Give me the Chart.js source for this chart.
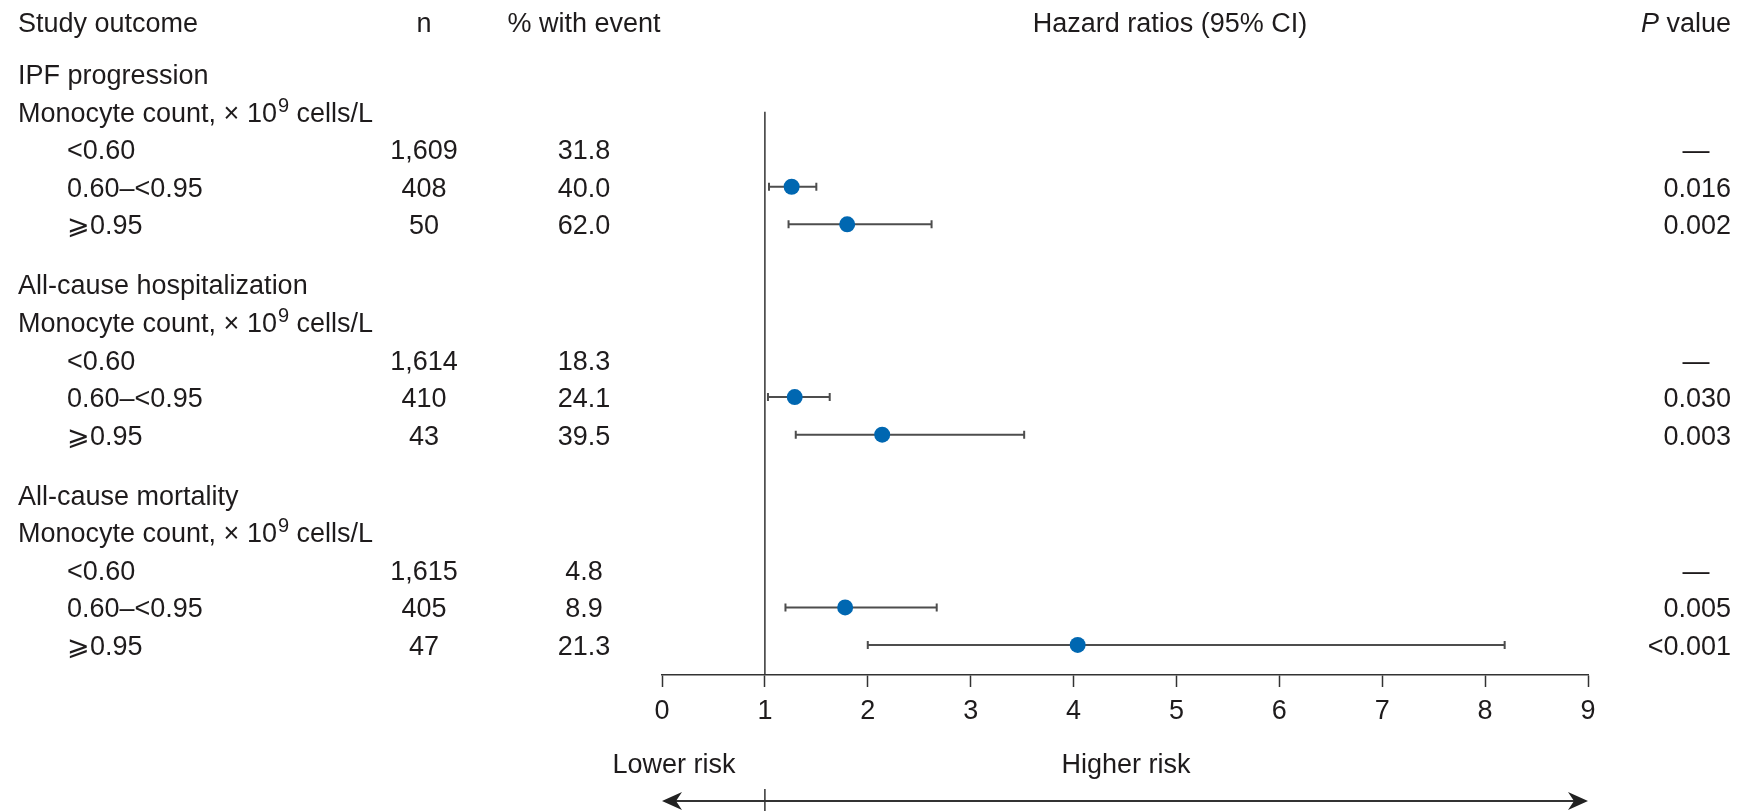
<!DOCTYPE html>
<html>
<head>
<meta charset="utf-8">
<script src="https://cdn.jsdelivr.net/npm/chart.js@4.4.1/dist/chart.umd.min.js"></script>
<style>
  body { margin: 0; background: #fff; }
  canvas { display: block; }
</style>
</head>
<body>
<canvas id="forestChart" width="1737" height="811"></canvas>
<script>
// table data
const groupNames = ['IPF progression', 'All-cause hospitalization', 'All-cause mortality'];
const subgroupLabels = ['<0.60', '0.60\u2013<0.95', '\u2A7E0.95'];
const nValues = [[1609, 408, 50], [1614, 410, 43], [1615, 405, 47]];
const pctValues = [[31.8, 40.0, 62.0], [18.3, 24.1, 39.5], [4.8, 8.9, 21.3]];
const hrValues = [[null, 1.26, 1.80], [null, 1.29, 2.14], [null, 1.78, 4.04]];
const ciLower = [[null, 1.04, 1.23], [null, 1.03, 1.30], [null, 1.20, 2.00]];
const ciUpper = [[null, 1.50, 2.62], [null, 1.63, 3.52], [null, 2.67, 8.19]];
const pValues = [['\u2014', '0.016', '0.002'], ['\u2014', '0.030', '0.003'], ['\u2014', '0.005', '<0.001']];
const xTickMin = 0;
const xTickMax = 9;

const FONT = "'Liberation Sans', Arial, Helvetica, sans-serif";
const TEXT = '#1e1b1c';
const ROWS_PER_GROUP = 5.6;

// row index of each line in the table
const groupRow = (g) => g * ROWS_PER_GROUP;
const subRow = (g, i) => groupRow(g) + 2 + i;

let points = [];
hrValues.forEach((list, g) => {
    list.forEach((hr, i) => {
        if (hr !== null) {
            points.push({ x: hr, y: subRow(g, i) });
        }
    });
});

const drawText = (ctx, txt, x, y, align, font) => {
    ctx.font = font || ('27px ' + FONT);
    ctx.textAlign = align || 'left';
    ctx.fillText(txt, x, y);
}

const monocyteLabel = (ctx, x, y) => {
    ctx.textAlign = 'left';
    ctx.font = '27px ' + FONT;
    let a = 'Monocyte count, \u00D7 10';
    ctx.fillText(a, x, y);
    let w = ctx.measureText(a).width;
    ctx.font = '20px ' + FONT;
    ctx.fillText('9', x + w + 1, y - 10);
    let w2 = ctx.measureText('9').width;
    ctx.font = '27px ' + FONT;
    ctx.fillText(' cells/L', x + w + w2 + 1, y);
}

const arrowHead = (ctx, tipX, y, dir) => {
    ctx.beginPath();
    ctx.moveTo(tipX, y);
    ctx.lineTo(tipX - dir * 20, y - 9);
    ctx.lineTo(tipX - dir * 14, y);
    ctx.lineTo(tipX - dir * 20, y + 9);
    ctx.closePath();
    ctx.fill();
}

const whiskerPlugin = {
    id: 'whiskers',
    beforeDatasetsDraw(chart) {
        const ctx = chart.ctx;
        const xs = chart.scales.x;
        const ys = chart.scales.y;
        ctx.save();
        ctx.strokeStyle = '#4d4d4d';
        ctx.lineWidth = 2;
        ciLower.forEach((list, g) => {
            list.forEach((lo, i) => {
                if (lo === null) return;
                const hi = ciUpper[g][i];
                const y = ys.getPixelForValue(subRow(g, i));
                const x1 = xs.getPixelForValue(lo);
                const x2 = xs.getPixelForValue(hi);
                ctx.beginPath();
                ctx.moveTo(x1, y); ctx.lineTo(x2, y);
                ctx.moveTo(x1, y - 4); ctx.lineTo(x1, y + 4);
                ctx.moveTo(x2, y - 4); ctx.lineTo(x2, y + 4);
                ctx.stroke();
            });
        });
        // line of no effect
        const x1 = xs.getPixelForValue(1);
        ctx.strokeStyle = '#333';
        ctx.lineWidth = 1.5;
        ctx.beginPath();
        ctx.moveTo(x1, ys.getPixelForValue(1));
        ctx.lineTo(x1, chart.chartArea.bottom);
        ctx.stroke();
        ctx.restore();
    },
    afterDraw(chart) {
        const ctx = chart.ctx;
        const xs = chart.scales.x;
        const ys = chart.scales.y;
        const area = chart.chartArea;
        const base = (row) => ys.getPixelForValue(row) + 10;
        ctx.save();
        ctx.fillStyle = TEXT;

        // header
        let hy = base(-1.4);
        drawText(ctx, 'Study outcome', 18, hy);
        drawText(ctx, 'n', 424, hy, 'center');
        drawText(ctx, '% with event', 584, hy, 'center');
        drawText(ctx, 'Hazard ratios (95% CI)', 1170, hy, 'center');
        ctx.font = '27px ' + FONT;
        let vw = ctx.measureText(' value').width;
        drawText(ctx, ' value', 1731, hy, 'right');
        drawText(ctx, 'P', 1731 - vw, hy, 'right', 'italic 27px ' + FONT);

        groupNames.forEach((name, g) => {
            drawText(ctx, name, 18, base(groupRow(g)));
            monocyteLabel(ctx, 18, base(groupRow(g) + 1));
            subgroupLabels.forEach((lab, i) => {
                let y = base(subRow(g, i));
                drawText(ctx, lab, 67, y);
                drawText(ctx, nValues[g][i].toLocaleString('en-US'), 424, y, 'center');
                drawText(ctx, pctValues[g][i].toFixed(1), 584, y, 'center');
                let p = pValues[g][i];
                if (p === '\u2014') {
                    drawText(ctx, p, 1696, y, 'center');
                } else {
                    drawText(ctx, p, 1731, y, 'right');
                }
            });
        });

        // risk direction
        let ry = area.bottom + 98;
        drawText(ctx, 'Lower risk', 674, ry, 'center');
        drawText(ctx, 'Higher risk', 1126, ry, 'center');
        let ay = area.bottom + 126;
        let xl = xs.getPixelForValue(xTickMin);
        let xr = xs.getPixelForValue(xTickMax);
        let x1 = xs.getPixelForValue(1);
        ctx.strokeStyle = '#333';
        ctx.fillStyle = '#222';
        ctx.lineWidth = 2;
        ctx.beginPath();
        ctx.moveTo(xl + 10, ay); ctx.lineTo(xr - 10, ay);
        ctx.stroke();
        arrowHead(ctx, xl, ay, -1);
        arrowHead(ctx, xr, ay, 1);
        ctx.lineWidth = 1.5;
        ctx.beginPath();
        ctx.moveTo(x1, ay - 12); ctx.lineTo(x1, chart.height);
        ctx.stroke();
        ctx.restore();
    }
};

const ctx = document.getElementById('forestChart').getContext('2d');
const forestChart = new Chart(ctx, {
    type: 'scatter',
    data: {
        datasets: [{
            label: 'Hazard ratio',
            data: points,
            backgroundColor: '#0067b1',
            borderWidth: 0,
            pointRadius: 8,
            pointHoverRadius: 8
        }]
    },
    options: {
        responsive: false,
        animation: false,
        layout: {
            padding: { left: 662, right: 149, top: 0, bottom: 0 }
        },
        plugins: {
            legend: { display: false },
            tooltip: { enabled: false }
        },
        scales: {
            x: {
                type: 'linear',
                min: xTickMin,
                max: xTickMax,
                afterFit: (scale) => { scale.height = 136; },
                ticks: {
                    stepSize: 1,
                    color: TEXT,
                    padding: 8,
                    font: { family: FONT, size: 27 }
                },
                grid: {
                    drawOnChartArea: false,
                    drawTicks: true,
                    tickLength: 12,
                    tickWidth: 1.5,
                    tickColor: '#333'
                },
                border: { display: true, color: '#333', width: 1.5 }
            },
            y: {
                type: 'linear',
                display: false,
                reverse: true,
                min: -1.76,
                max: 16
            }
        }
    },
    plugins: [whiskerPlugin]
});
</script>
</body>
</html>
